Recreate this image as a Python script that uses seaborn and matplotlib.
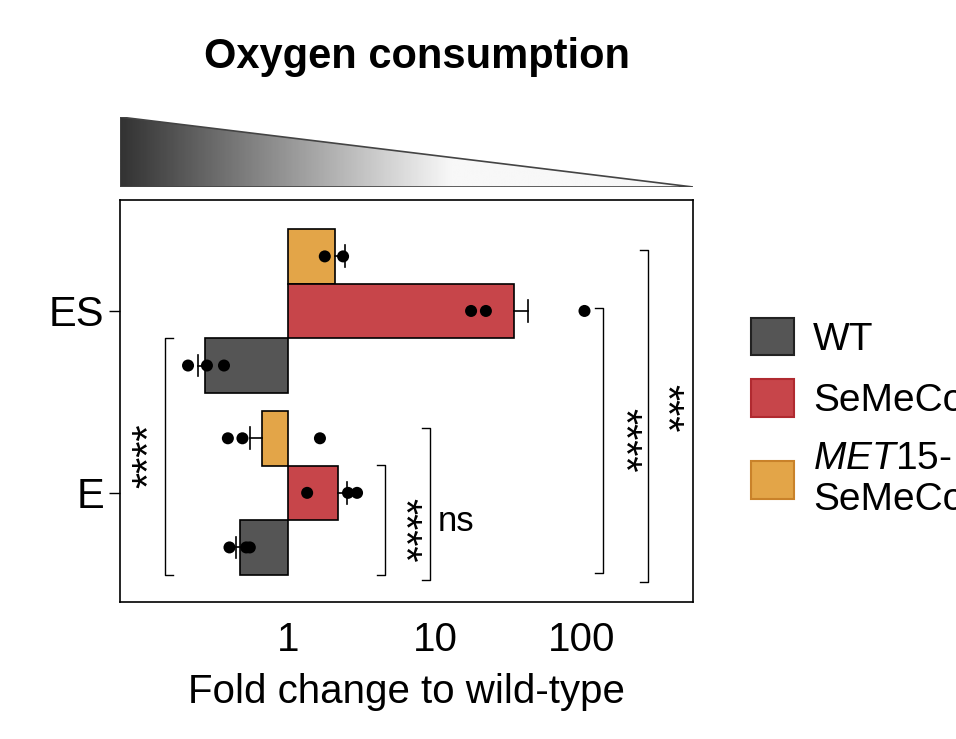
import matplotlib.pyplot as plt
import matplotlib.patches as mpatches
import numpy as np
import pandas as pd
import seaborn as sns

plt.rcParams["font.family"] = "Liberation Sans"
plt.rcParams["mathtext.fontset"] = "custom"
plt.rcParams["mathtext.it"] = "Liberation Sans:italic"
plt.rcParams["mathtext.rm"] = "Liberation Sans"

groups = ["ES", "E"]
strains = ["MET15-SeMeCo", "SeMeCo", "WT"]
colors = {"WT": "#555555", "SeMeCo": "#c7454a", "MET15-SeMeCo": "#e3a548"}
edge = {"WT": "#222222", "SeMeCo": "#b02a30", "MET15-SeMeCo": "#c9822a"}

bar_means = {"ES": [2.09, 34.4, 0.272], "E": [0.665, 2.19, 0.47]}
bar_errs = {"ES": [2.44, 43.0, 0.245], "E": [0.55, 2.52, 0.44]}
points = {
    "ES": [[1.78, 2.37], [17.6, 22.2, 104], [0.209, 0.281, 0.367]],
    "E": [[0.39, 0.49, 1.65], [1.35, 2.56, 2.95], [0.40, 0.52, 0.55]],
}

offsets = [-0.3, 0.0, 0.3]
rows = []
for gi, g in enumerate(groups):
    for si, s in enumerate(strains):
        for v in points[g][si]:
            rows.append({"y": gi + offsets[si], "value": v})
pts = pd.DataFrame(rows)

fig = plt.figure(figsize=(9.56, 7.39), dpi=100)
W, H = 956, 739
ax = fig.add_axes([120 / W, 1 - 602 / H, 573 / W, 402 / H])

for gi, g in enumerate(groups):
    for si, s in enumerate(strains):
        m = bar_means[g][si]
        y = gi + offsets[si]
        ax.barh(y, m - 1, left=1, height=0.3, color=colors[s], edgecolor="black", lw=1.2, zorder=2)
        e = bar_errs[g][si]
        ax.plot([m, e], [y, y], color="black", lw=1.2, zorder=3)
        ax.plot([e, e], [y - 0.06, y + 0.06], color="black", lw=1.2, zorder=3)

sns.scatterplot(data=pts, x="value", y="y", color="black", s=75, ax=ax, zorder=4, legend=False, edgecolor="none")

ax.set_xscale("log")
ax.set_xlim(0.072, 569)
ax.set_ylim(1.6, -0.61)
ax.set_xticks([1, 10, 100])
ax.set_xticklabels(["1", "10", "100"])
ax.minorticks_off()
ax.set_yticks([0, 1])
ax.set_yticklabels(groups)
ax.tick_params(axis="y", labelsize=30, length=8, width=1)
ax.tick_params(axis="x", labelsize=29, length=0, pad=14)
ax.set_xlabel("Fold change to wild-type", fontsize=29, labelpad=10)
ax.set_ylabel("")
for sp in ax.spines.values():
    sp.set_linewidth(1.2)


def px2x(px):
    return 10 ** ((px - 288) / 147)


def py2y(py):
    return (py - 311) / 182


def bracket(xp, y0, y1, label, tx, ty, left=False, rot=90, fs=30):
    d = -8 if not left else 8
    xs = [px2x(xp + d), px2x(xp), px2x(xp), px2x(xp + d)]
    ys = [py2y(y0), py2y(y0), py2y(y1), py2y(y1)]
    ax.plot(xs, ys, color="black", lw=1, clip_on=False)
    ax.text(px2x(tx), py2y(ty), label, rotation=rot, ha="center", va="center", fontsize=fs)


bracket(165, 338, 575, "****", 150, 456, left=True, rot=90)
bracket(385, 465, 575, "****", 402, 530, rot=-90)
bracket(430, 428, 580, "ns", 456, 522, rot=0, fs=25)
bracket(603, 308, 573, "****", 622, 440, rot=-90)
bracket(648, 250, 582, "***", 664, 408, rot=-90)

# gradient triangle
tax = fig.add_axes([120 / W, 1 - 187 / H, 573 / W, 70 / H])
xg = np.linspace(0, 1, 256)
grad = np.clip(0.2 + xg / 0.6 * 0.8, 0, 0.97)[None, :]
im = tax.imshow(grad, cmap="gray", vmin=0, vmax=1, aspect="auto", extent=[0, 1, 0, 1])
tri = mpatches.Polygon([[0, 0], [0, 1], [1, 0]], closed=True, transform=tax.transData,
                       facecolor="none", edgecolor="#444444", lw=1.2)
tax.add_patch(tri)
im.set_clip_path(tri)
tax.set_xlim(0, 1)
tax.set_ylim(0, 1)
tax.axis("off")

fig.text(417 / W, 1 - 57 / H, "Oxygen consumption", fontsize=30, fontweight="bold", ha="center", va="center")

handles = [mpatches.Patch(facecolor=colors[s], edgecolor=edge[s], lw=1.5) for s in ["WT", "SeMeCo", "MET15-SeMeCo"]]
labels = ["WT", "SeMeCo", "$\\it{MET15}$-\nSeMeCo"]
fig.legend(handles, labels, loc="upper left", bbox_to_anchor=(716 / W, 1 - 283 / H), frameon=False,
           fontsize=28, handlelength=1.1, handleheight=1.1, labelspacing=0.55, handletextpad=0.5)

fig.savefig("out.png", dpi=100)
